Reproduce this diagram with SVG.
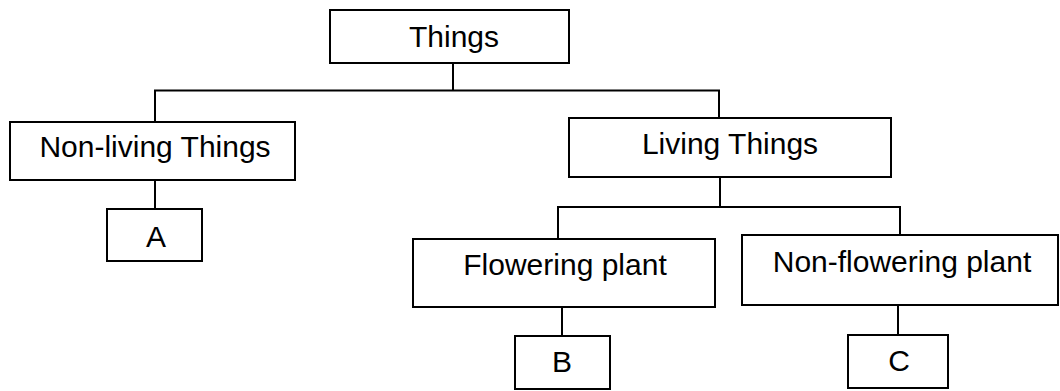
<svg xmlns="http://www.w3.org/2000/svg" width="1060" height="391" viewBox="0 0 1060 391">
<style>
.box{fill:#fff;stroke:#000;stroke-width:2}
.lbl{font-family:"Liberation Sans",Arial,sans-serif;font-size:30px;fill:#000;text-anchor:middle}
.conn line{stroke:#000;stroke-width:2}
</style>
<rect x="0" y="0" width="1060" height="391" fill="#fff"/>
<g id="connectors" class="conn">
<line x1="453" y1="63" x2="453" y2="90.5"/>
<line x1="154" y1="90.5" x2="720" y2="90.5"/>
<line x1="155" y1="90" x2="155" y2="122"/>
<line x1="719" y1="90" x2="719" y2="118"/>
<line x1="155" y1="180" x2="155" y2="209"/>
<line x1="720" y1="177" x2="720" y2="207"/>
<line x1="557" y1="207" x2="901" y2="207"/>
<line x1="558" y1="207" x2="558" y2="239"/>
<line x1="900" y1="207" x2="900" y2="235"/>
<line x1="562" y1="307" x2="562" y2="336"/>
<line x1="898" y1="305" x2="898" y2="335"/>
</g>
<g id="things"><rect class="box" x="330" y="10" width="239" height="53"/><text class="lbl" x="454" y="47">Things</text></g>
<g id="nonliving"><rect class="box" x="10" y="122" width="285" height="58"/><text class="lbl" x="155" y="157">Non-living Things</text></g>
<g id="a"><rect class="box" x="107" y="209" width="95" height="52"/><text class="lbl" x="156" y="247">A</text></g>
<g id="living"><rect class="box" x="569" y="118" width="322" height="59"/><text class="lbl" x="730" y="154">Living Things</text></g>
<g id="flowering"><rect class="box" x="413" y="239" width="302" height="68"/><text class="lbl" x="565" y="275">Flowering plant</text></g>
<g id="nonflowering"><rect class="box" x="742" y="235" width="316" height="70"/><text class="lbl" x="902" y="272">Non-flowering plant</text></g>
<g id="b"><rect class="box" x="515" y="336" width="95" height="53"/><text class="lbl" x="562" y="372">B</text></g>
<g id="c"><rect class="box" x="848" y="335" width="100" height="53"/><text class="lbl" x="899" y="371">C</text></g>
</svg>
